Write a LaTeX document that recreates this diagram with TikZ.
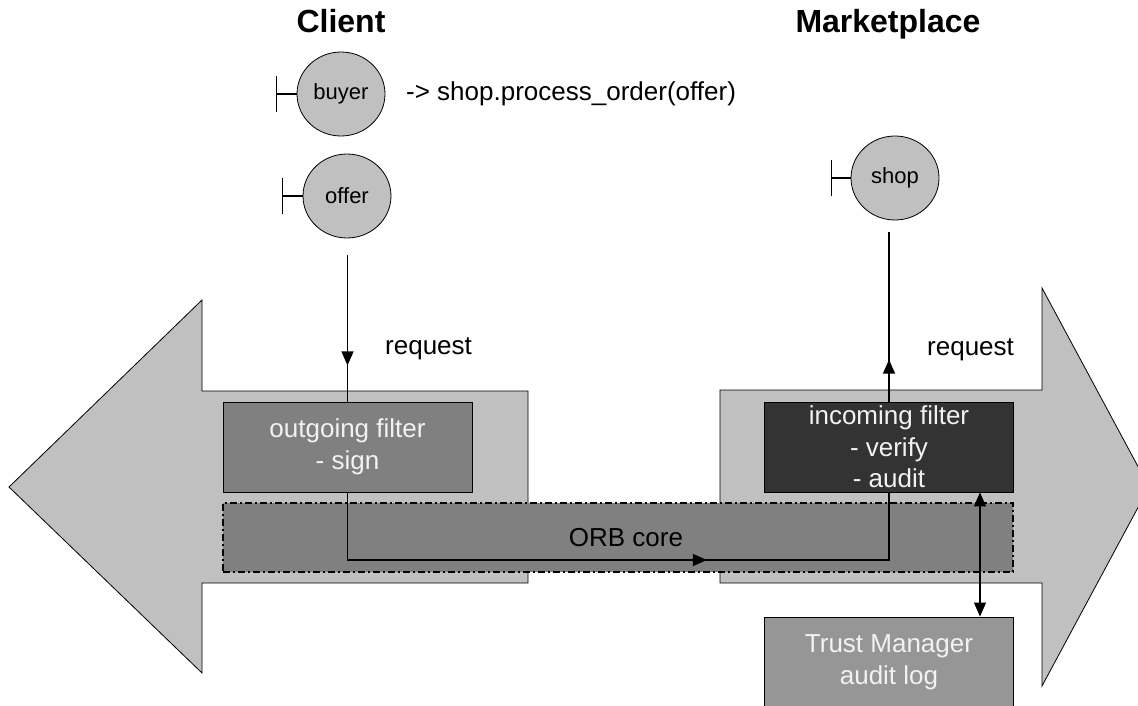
\documentclass[tikz,border=0pt]{standalone}
\usepackage{fontspec}
\setmainfont{Liberation Sans}
\usetikzlibrary{arrows.meta,decorations.markings,shapes.geometric}
\definecolor{arrowgray}{HTML}{C0C0C0}
\definecolor{midgray}{HTML}{808080}
\definecolor{darkbox}{HTML}{333333}
\definecolor{trustgray}{HTML}{969696}
\definecolor{lighttext}{HTML}{F2F2F2}
\begin{document}
\begin{tikzpicture}[x=1pt,y=-1pt,
  bigarrow/.style={fill=arrowgray,draw=black,line width=0.8pt},
  filterbox/.style={draw=black,line width=0.8pt,minimum width=249pt,minimum height=90pt,
    align=center,text=lighttext,inner sep=0pt,font=\fontsize{26}{31.5}\selectfont},
  actor/.style={ellipse,draw=black,line width=0.8pt,fill=arrowgray,minimum width=88pt,
    minimum height=84pt,inner sep=0pt,font=\fontsize{22}{26}\selectfont},
  plain/.style={inner sep=0pt,font=\fontsize{26}{31.5}\selectfont},
  title/.style={inner sep=0pt,font=\fontsize{32}{36}\selectfont\bfseries},
  conn/.style={line width=1.3pt},
  tbar/.style={line width=1.3pt},
  midarrow/.style={postaction={decorate},decoration={markings,
    mark=at position #1 with {\arrow{Triangle[length=14pt,width=12pt]}}}},
  orbstyle/.style={draw=black,fill=midgray,line width=1.2pt,
    dash pattern=on 7pt off 3pt on 2pt off 3pt,minimum width=790pt,minimum height=69pt,inner sep=0pt}
]
\useasboundingbox (0,0) rectangle (1138,706);
\clip (0,0) rectangle (1138,706);

% big arrows
\draw[bigarrow] (9,487) -- (202,300) -- (202,391) -- (528,391) -- (528,583)
  -- (202,583) -- (202,673) -- cycle;
\draw[bigarrow] (1149,487) -- (1042,288) -- (1042,390) -- (720,390) -- (720,583)
  -- (1042,583) -- (1042,686) -- cycle;

% titles
\node[title,anchor=base] (client) at (341,33) {Client};
\node[title,anchor=base] (market) at (888,33) {Marketplace};

% actors
\node[actor] (buyer) at (341,94) {buyer};
\node[actor] (offer) at (347,196) {offer};
\node[actor] (shop) at (895,178) {shop};
\draw[tbar] (buyer.west) -- ++(-20,0) coordinate (bt);
\draw[tbar] ([yshift=-18pt]bt) -- ([yshift=18pt]bt);
\draw[tbar] (offer.west) -- ++(-20,0) coordinate (ot);
\draw[tbar] ([yshift=-18pt]ot) -- ([yshift=18pt]ot);
\draw[tbar] (shop.west) -- ++(-19,0) coordinate (st);
\draw[tbar] ([yshift=-18pt]st) -- ([yshift=18pt]st);

\node[plain,anchor=base west] (call) at (406,101) {-> shop.process\_order(offer)};

% filters
\node[filterbox,fill=midgray] (out) at (347.5,447) {outgoing filter\\- sign};
\node[filterbox,fill=darkbox] (in) at (889,447) {incoming filter\\- verify\\- audit};
\node[filterbox,fill=trustgray] (trust) at (889,662) {Trust Manager\\audit log};

% ORB core
\node[orbstyle] (orb) at (618,537.5) {};
\node[plain] (orblabel) at (626,538) {ORB core};

% request labels
\node[plain,anchor=base west] (req1) at (385,354) {request};
\node[plain,anchor=base west] (req2) at (927,355) {request};

% connectors
\draw[conn,midarrow=110pt] ([yshift=-17pt]offer.south -| out.north) -- (out.north);
\draw[conn,midarrow=42pt] (in.north) -- ([yshift=-12pt]in.north |- shop.south);
\coordinate (orbline) at (0,560);
\draw[conn,midarrow=427pt] (out.south) -- (out.south |- orbline) -| (in.south);
\draw[conn,{Triangle[length=14pt,width=12pt]}-{Triangle[length=14pt,width=12pt]}]
  ([xshift=91pt]in.south) -- ([xshift=91pt]trust.north);
\end{tikzpicture}
\end{document}
